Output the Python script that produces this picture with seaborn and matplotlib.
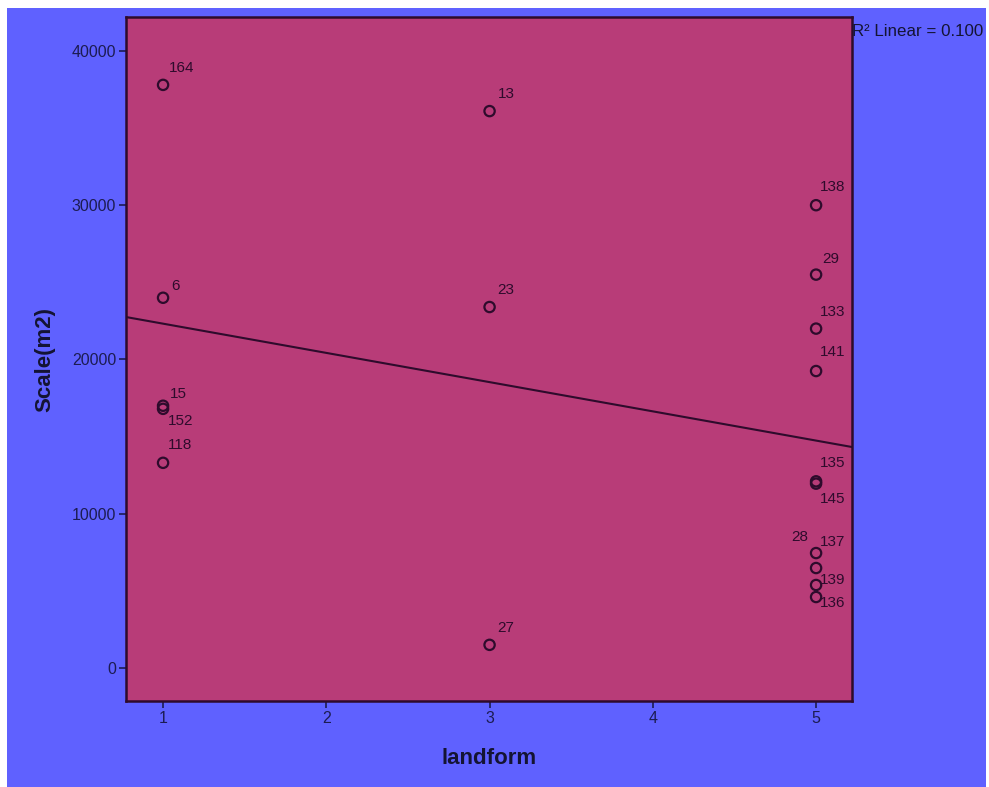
import matplotlib.pyplot as plt
import matplotlib.patches as mpatches
import seaborn as sns
import pandas as pd

# case numbers, landform category and scale (m2)
case_ids = ['164', '6', '15', '152', '118',
            '13', '23', '27',
            '138', '29', '133', '141', '135', '145', '137', '28', '139', '136']
landform = [1, 1, 1, 1, 1,
            3, 3, 3,
            5, 5, 5, 5, 5, 5, 5, 5, 5, 5]
scale_m2 = [37800, 24000, 17000, 16800, 13300,
            36100, 23400, 1500,
            30000, 25500, 22000, 19250, 12100, 11950, 7450, 6480, 5380, 4600]

x_ticks = [1, 2, 3, 4, 5]
y_ticks = [0, 10000, 20000, 30000, 40000]
r2_text = 'R\u00b2 Linear = 0.100'

# label placement (pixels: dx, dy up) so labels dodge each other like SPSS
label_offsets = [(6, 17), (8, 12), (7, 12), (5, -12), (5, 18),
                 (8, 17), (8, 17), (8, 17),
                 (4, 18), (6, 16), (4, 17), (4, 19), (4, 18), (4, -15),
                 (4, 11), (-8, 31), (4, 5), (4, -6)]

df = pd.DataFrame({'landform': landform, 'Scale(m2)': scale_m2, 'case': case_ids})

BLUE = '#5F61FF'
PLOT_BG = '#B83C78'
DARK = '#2E0B2C'
TICK_COL = '#1C1C52'

sns.set_theme(style='ticks')
plt.rcParams['font.family'] = ['Liberation Sans', 'DejaVu Sans']

fig = plt.figure(figsize=(9.89, 7.87), dpi=100, facecolor='white')
fig.patches.append(mpatches.Rectangle((7 / 989, 0), 979 / 989, 1 - 8 / 787,
                                      transform=fig.transFigure, facecolor=BLUE,
                                      edgecolor='none', zorder=-10))
ax = fig.add_axes([126 / 989, 1 - 701 / 787, 726 / 989, 684 / 787])
ax.set_facecolor(PLOT_BG)

xlim = (0.773, 5.22)
ylim = (-2140, 42200)
ax.set_xlim(xlim)
ax.set_ylim(ylim)

sns.scatterplot(data=df, x='landform', y='Scale(m2)', ax=ax, marker='o', s=55,
                fc='none', ec=DARK, linewidth=1.6, zorder=3)
sns.regplot(data=df, x='landform', y='Scale(m2)', ax=ax, scatter=False, ci=None,
            truncate=False, line_kws={'color': DARK, 'lw': 1.5})
ax.set_xlim(xlim)
ax.set_ylim(ylim)

for xv, yv, lab, (dx, dy) in zip(landform, scale_m2, case_ids, label_offsets):
    ax.annotate(lab, (xv, yv), xytext=(dx, dy), textcoords='offset pixels',
                ha='left' if dx > 0 else 'right', va='center',
                fontsize=11, color=DARK, zorder=4)

ax.set_xticks(x_ticks)
ax.set_yticks(y_ticks)
ax.tick_params(axis='both', direction='out', length=5, width=1.2, color=TICK_COL,
               labelcolor=TICK_COL, labelsize=11.5, pad=2)
for sp in ax.spines.values():
    sp.set_color(DARK)
    sp.set_linewidth(1.8)

ax.set_xlabel('landform', fontsize=16, fontweight='bold', color='#141433', labelpad=16)
ax.set_ylabel('Scale(m2)', fontsize=16, fontweight='bold', color='#141433', labelpad=12)

fig.text(852 / 989, 1 - 31 / 787, r2_text, fontsize=12.2, color='#141433',
         ha='left', va='center')

fig.savefig('out.png', dpi=100, facecolor='white')
